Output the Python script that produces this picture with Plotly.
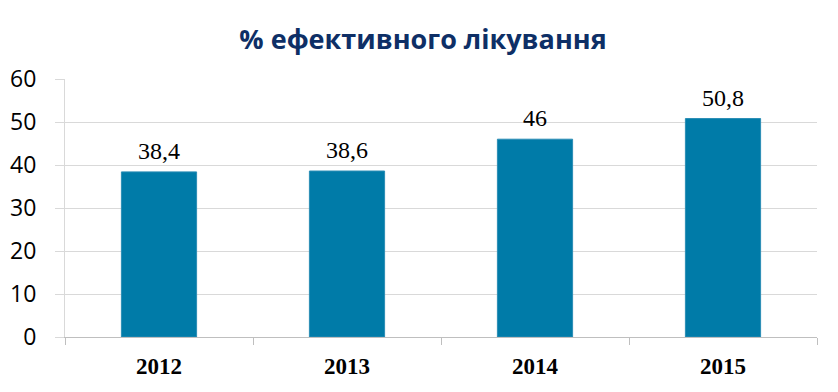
import plotly.graph_objects as go

years = ["2012", "2013", "2014", "2015"]
values = [38.4, 38.6, 46, 50.8]
value_labels = ["38,4", "38,6", "46", "50,8"]
y_ticks = [0, 10, 20, 30, 40, 50, 60]

fig = go.Figure(go.Bar(
    x=years, y=values,
    marker=dict(color="#007BA8", line=dict(color="#2A8DB5", width=1)),
))

# category axis: annotations positioned by category index
for i, (v, lab) in enumerate(zip(values, value_labels)):
    fig.add_annotation(x=i, y=v, text=lab, showarrow=False,
                       xanchor="center", yanchor="bottom", yshift=6,
                       font=dict(family="Liberation Serif", size=24, color="#000000"))

fig.update_layout(
    width=830, height=384,
    margin=dict(l=57, r=21, t=71, b=55, autoexpand=False),
    paper_bgcolor="white", plot_bgcolor="white",
    bargap=0.6,
    showlegend=False,
    title=dict(text="<b>% ефективного лікування</b>", x=0.5, xanchor="center",
               y=0.917, yanchor="middle", automargin=False,
               font=dict(family="Open Sans", size=27, color="#0E2F66")),
    xaxis=dict(
        type="category", automargin=False,
        tickson="boundaries", ticks="outside", ticklen=7, tickcolor="#BFBFBF",
        ticklabelstandoff=8,
        showline=True, linecolor="#BFBFBF", linewidth=1,
        tickfont=dict(family="Liberation Serif", size=23, color="#000000", weight="bold"),
        showgrid=False,
    ),
    yaxis=dict(
        range=[0, 60], tickvals=y_ticks, automargin=False,
        ticks="outside", ticklen=9, tickcolor="#D9D9D9",
        ticklabelstandoff=14,
        showline=True, linecolor="#D9D9D9", linewidth=1,
        showgrid=True, gridcolor="#D9D9D9", gridwidth=1,
        zeroline=False,
        tickfont=dict(family="Open Sans", size=23, color="#000000"),
    ),
)

fig.write_html("out.html")
